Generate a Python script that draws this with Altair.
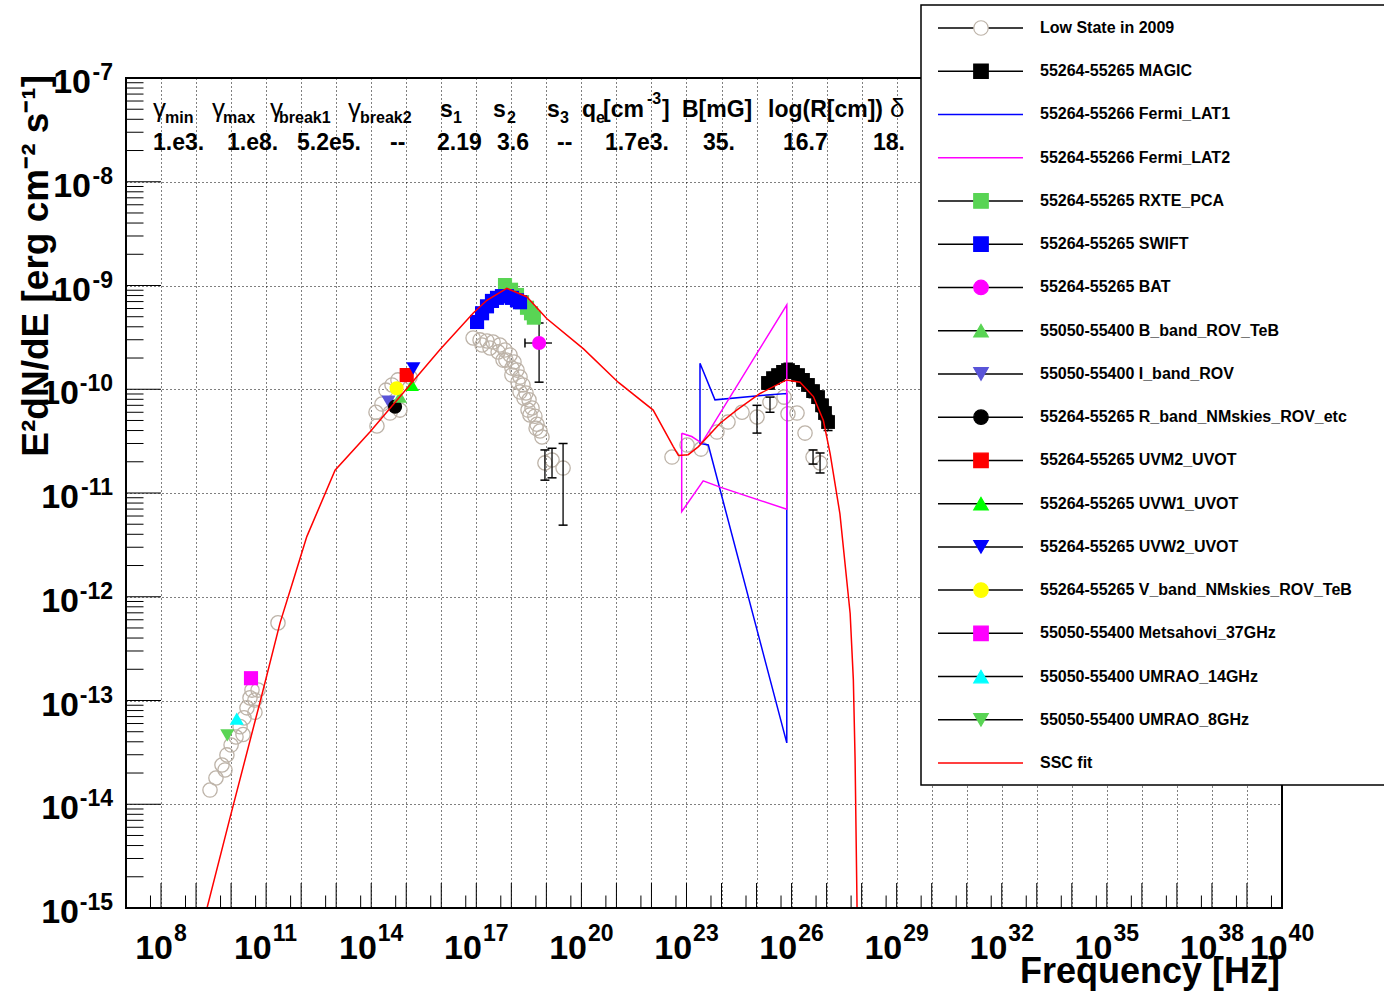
import altair as alt
import pandas as pd

FONT = "Liberation Sans"
W, H = 1156, 830
GREY = "#bdb3a8"
GREEN = "#59d454"
SLATE = "#5954d8"

# ---------------- data ----------------
ssc_nu = [1.45e9, 9.3e9, 7.4e10, 2.5e11, 6.0e11, 1.45e12, 9.3e12, 9.3e13, 9.1e15, 8.1e16,
          2.0e17, 7.4e17, 2.75e18, 1.02e19, 1.15e20, 1.12e21, 1.12e22, 4.2e22, 5.9e22, 1.12e23,
          2.2e23, 9.1e23, 2.7e24, 1.26e25, 7.2e25, 1.74e26, 4.2e26, 8.1e26, 1.26e27, 2.4e27,
          4.7e27, 5.8e27, 6.5e27, 7.4e27, 7.6e27]
ssc_f = [6.3e-16, 7.4e-15, 1.1e-13, 5.6e-13, 1.45e-12, 3.8e-12, 1.66e-11, 3.9e-11, 2.4e-10, 5.4e-10,
         7.2e-10, 9.4e-10, 7.8e-10, 4.8e-10, 2.45e-10, 1.17e-10, 6.3e-11, 2.8e-11, 2.3e-11, 2.34e-11,
         2.8e-11, 4.7e-11, 6.3e-11, 9.1e-11, 1.23e-10, 1.17e-10, 8.5e-11, 5.0e-11, 2.4e-11, 6.3e-12,
         6.9e-13, 1.58e-13, 2.7e-14, 1.0e-15, 5e-16]

lat1_nu = [2.43e23, 6.5e23, 1.95e25, 7.3e25, 7.3e25, 4.2e23, 2.43e23, 2.43e23]
lat1_f = [1.78e-10, 7.9e-11, 8.8e-11, 9.1e-11, 3.9e-14, 2.9e-11, 3.0e-11, 1.78e-10]

lat2_nu = [7.3e22, 1.41e23, 2.72e23, 7.3e25, 7.3e25, 9.1e23, 3.0e23, 7.3e22, 7.3e22]
lat2_f = [3.76e-11, 3.5e-11, 3.03e-11, 6.5e-10, 6.97e-12, 1.14e-11, 1.31e-11, 6.6e-12, 3.76e-11]

low_nu = [2.5e9, 3.7e9, 5.5e9, 6.7e9, 7.6e9, 1.0e10, 1.38e10, 1.8e10, 2.19e10, 2.34e10, 2.84e10,
          3.47e10, 3.95e10, 4.8e10, 4.8e10, 5.9e10, 2.18e11,
          1.46e14, 1.37e14, 2.03e14, 2.64e14, 3.93e14, 5.8e14, 6.6e14, 3.44e14, 1.28e15,
          8.1e16, 1.28e17, 2.02e17, 3.0e17, 4.7e17, 6.6e17, 9.2e17, 1.19e18, 1.45e18, 1.77e18,
          2.15e18, 2.62e18, 3.2e18, 3.9e18, 4.7e18, 5.4e18, 6.6e18, 7.5e18, 5.8e17, 1.04e18,
          1.77e18, 3.0e18, 9.1e18, 1.45e19, 3.0e19,
          1.46e17, 2.46e17, 4.2e17, 7.0e17, 1.04e18, 1.55e18, 2.3e18, 3.4e18, 5.1e18,
          3.86e22, 1.04e23, 2.6e23, 7.4e23, 1.53e24, 3.85e24, 1.03e25, 2.42e25, 6.1e25, 7.9e25,
          1.43e26, 2.42e26, 4.1e26, 6.5e26]
low_f = [1.37e-14, 1.79e-14, 2.39e-14, 2.14e-14, 2.99e-14, 3.72e-14, 4.45e-14, 5.6e-14, 4.7e-14, 6.8e-14, 8.5e-14,
         1.06e-13, 1.26e-13, 1.01e-13, 7.7e-14, 1.26e-13, 5.6e-13,
         4.43e-11, 6.0e-11, 7.2e-11, 9.8e-11, 1.10e-10, 1.23e-10, 6.3e-11, 5.9e-11, 1.31e-10,
         3.12e-10, 2.99e-10, 2.92e-10, 2.85e-10, 2.67e-10, 2.39e-10, 2.14e-10, 1.83e-10, 1.53e-10, 1.31e-10,
         1.10e-10, 9.2e-11, 7.9e-11, 6.6e-11, 5.5e-11, 4.6e-11, 3.96e-11, 3.47e-11, 1.91e-10, 1.37e-10,
         9.4e-11, 6.3e-11, 1.95e-11, 2.08e-11, 1.74e-11,
         2.67e-10, 2.5e-10, 2.29e-10, 1.91e-10, 1.6e-10, 1.17e-10, 8.2e-11, 5.65e-11, 4.2e-11,
         2.22e-11, 2.9e-11, 2.65e-11, 3.87e-11, 4.83e-11, 6.0e-11, 5.4e-11, 7.5e-11, 8.4e-11, 5.8e-11,
         5.9e-11, 3.78e-11, 2.22e-11, 1.95e-11]

low_err_nu = [9.1e18, 1.45e19, 3.0e19, 1.03e25, 2.42e25, 4.1e26, 6.5e26]
low_err_lo = [1.33e-11, 1.4e-11, 4.9e-12, 3.78e-11, 6.0e-11, 1.9e-11, 1.56e-11]
low_err_hi = [2.6e-11, 2.7e-11, 3.0e-11, 7.0e-11, 8.4e-11, 2.6e-11, 2.43e-11]

magic_nu = [2.12e25, 2.95e25, 4.1e25, 5.7e25, 7.9e25, 1.1e26, 1.53e26, 2.12e26, 2.94e26, 4.1e26,
            5.7e26, 7.4e26, 9.0e26, 1.1e27]
magic_f = [1.15e-10, 1.28e-10, 1.37e-10, 1.47e-10, 1.53e-10, 1.47e-10, 1.37e-10, 1.23e-10, 1.10e-10, 9.6e-11,
           8.4e-11, 7.0e-11, 5.9e-11, 4.83e-11]
magic_lo = [1.0e-10, 1.12e-10, 1.2e-10, 1.28e-10, 1.32e-10, 1.28e-10, 1.2e-10, 1.08e-10, 9.6e-11, 8.3e-11,
            7.3e-11, 6.0e-11, 5.0e-11, 4.0e-11]
magic_hi = [1.3e-10, 1.45e-10, 1.55e-10, 1.67e-10, 1.78e-10, 1.66e-10, 1.55e-10, 1.39e-10, 1.25e-10, 1.09e-10,
            9.6e-11, 8.0e-11, 6.8e-11, 5.6e-11]

rxte_nu = [6.6e17, 9.8e17, 1.45e18, 2.02e18, 2.8e18, 3.65e18, 4.4e18]
rxte_f = [1.01e-9, 9.1e-10, 8.1e-10, 6.9e-10, 6.1e-10, 5.4e-10, 4.9e-10]

swift_nu = [1.05e17, 1.46e17, 2.02e17, 2.8e17, 3.9e17, 5.4e17, 7.5e17, 1.04e18, 1.45e18, 1.77e18]
swift_f = [4.45e-10, 5.4e-10, 6.3e-10, 7.1e-10, 7.6e-10, 7.9e-10, 7.9e-10, 7.6e-10, 7.2e-10, 6.9e-10]

bat_nu = [6.2e18]
bat_f = [2.79e-10]
bat_lo = [1.17e-10]
bat_hi = [4.35e-10]
bat_xlo = [2.45e18]
bat_xhi = [1.45e19]

bband_nu, bband_f = [6.6e14], [8.5e-11]
iband_nu, iband_f = [3.1e14], [7.6e-11]
rband_nu, rband_f = [4.8e14], [6.8e-11]
uvm2_nu, uvm2_f = [1.03e15], [1.37e-10]
uvw1_nu, uvw1_f = [1.45e15], [1.1e-10]
uvw2_nu, uvw2_f = [1.6e15], [1.59e-10]
vband_nu, vband_f = [5.3e14], [1.02e-10]
mets_nu, mets_f = [3.7e10], [1.64e-13]
umrao14_nu, umrao14_f = [1.45e10], [6.7e-14]
umrao8_nu, umrao8_f = [7.8e9], [4.6e-14]

# tick labels
xlab_vals = [1e8, 1e11, 1e14, 1e17, 1e20, 1e23, 1e26, 1e29, 1e32, 1e35, 1e38, 1e40]
xlab_exp = ["8", "11", "14", "17", "20", "23", "26", "29", "32", "35", "38", "40"]
ylab_vals = [1e-7, 1e-8, 1e-9, 1e-10, 1e-11, 1e-12, 1e-13, 1e-14, 1e-15]
ylab_exp = ["-7", "-8", "-9", "-10", "-11", "-12", "-13", "-14", "-15"]

# header annotation (pixel layout inside the frame)
head_text = ["γ", "min", "γ", "max", "γ", "break1", "γ", "break2",
             "s", "1", "s", "2", "s", "3", "q", "e", "[cm", "-3", "]",
             "B[mG]", "log(R[cm])", "δ"]
head_x = [27, 39, 86, 97, 144, 153, 222, 234, 314, 327, 367, 381, 421, 434,
          456, 470, 477, 521, 536, 556, 642, 764]
head_y = [39, 45, 39, 45, 39, 45, 39, 45, 39, 45, 39, 45, 39, 45,
          39, 45, 39, 26, 39, 39, 39, 39]
head_size = [26, 16, 26, 16, 26, 16, 26, 16, 23, 16, 23, 16, 23, 16,
             23, 16, 23, 16, 23, 23, 23, 26]
head_bold = [0, 1, 0, 1, 0, 1, 0, 1, 1, 1, 1, 1, 1, 1, 1, 1, 1, 1, 1, 1, 1, 0]
val_text = ["1.e3.", "1.e8.", "5.2e5.", "--", "2.19", "3.6", "--", "1.7e3.", "35.", "16.7", "18."]
val_x = [27, 101, 171, 264, 311, 371, 431, 479, 577, 657, 747]

leg_labels = ["Low State in 2009", "55264-55265 MAGIC", "55264-55266 Fermi_LAT1",
              "55264-55266 Fermi_LAT2", "55264-55265 RXTE_PCA", "55264-55265 SWIFT",
              "55264-55265 BAT", "55050-55400 B_band_ROV_TeB", "55050-55400 I_band_ROV",
              "55264-55265 R_band_NMskies_ROV_etc", "55264-55265 UVM2_UVOT",
              "55264-55265 UVW1_UVOT", "55264-55265 UVW2_UVOT",
              "55264-55265 V_band_NMskies_ROV_TeB", "55050-55400 Metsahovi_37GHz",
              "55050-55400 UMRAO_14GHz", "55050-55400 UMRAO_8GHz", "SSC fit"]
leg_line = ["black", "black", "#0000ff", "#ff00ff", "black", "black", "black", "black", "black",
            "black", "black", "black", "black", "black", "black", "black", "black", "#ff0000"]
leg_shape = ["circle", "square", "", "", "square", "square", "circle", "triangle-up", "triangle-down",
             "circle", "square", "triangle-up", "triangle-down", "circle", "square", "triangle-up",
             "triangle-down", ""]
leg_fill = ["white", "black", "", "", GREEN, "#0000ff", "#ff00ff", GREEN, SLATE,
            "black", "#ff0000", "#00ff00", "#0000ff", "#ffff00", "#ff00ff", "#00ffff", GREEN, ""]
leg_stroke = [GREY, "black", "", "", GREEN, "#0000ff", "#ff00ff", GREEN, SLATE,
              "black", "#ff0000", "#00ff00", "#0000ff", "#ffff00", "#ff00ff", "#00ffff", GREEN, ""]

# ---------------- scales / axes ----------------
XS = alt.Scale(type="log", domain=[1e7, 1e40], nice=False)
YS = alt.Scale(type="log", domain=[1e-15, 1e-7], nice=False)
x_grid = [10.0 ** k for k in range(8, 40)]
y_grid = [10.0 ** k for k in range(-14, -7)]
XAX = alt.Axis(values=x_grid, grid=True, gridColor="black", gridDash=[1, 3], gridOpacity=1,
               gridWidth=1, labels=False, ticks=False, domain=False, title=None)
YAX = alt.Axis(values=y_grid, grid=True, gridColor="black", gridDash=[1, 3], gridOpacity=1,
               gridWidth=1, labels=False, ticks=False, domain=False, title=None)


def X(f="nu"):
    return alt.X(f"{f}:Q", scale=XS, axis=XAX)


def Y(f="F"):
    return alt.Y(f"{f}:Q", scale=YS, axis=YAX)


def df(nu, f):
    return pd.DataFrame({"nu": nu, "F": f})


def pts(nu, f, shape, color, size=200):
    return alt.Chart(df(nu, f)).mark_point(shape=shape, filled=True, color=color, size=size,
                                           opacity=1, clip=True).encode(x=X(), y=Y())


layers = []

# low state (first: carries the grid axes)
layers.append(alt.Chart(df(low_nu, low_f)).mark_point(
    shape="circle", filled=False, color=GREY, size=205, strokeWidth=1.3, opacity=1, clip=True
).encode(x=X(), y=Y()))

# inside ticks
xmaj = pd.DataFrame({"nu": x_grid})
xmin = pd.DataFrame({"nu": [5 * 10.0 ** k for k in range(7, 40)]})
ymaj = pd.DataFrame({"F": y_grid})
ymin = pd.DataFrame({"F": [m * 10.0 ** k for k in range(-15, -7) for m in range(2, 10)]})
layers.append(alt.Chart(xmaj).mark_rule(color="black", strokeWidth=1).encode(
    x=X(), y=alt.value(H), y2=alt.value(H - 25)))
layers.append(alt.Chart(xmin).mark_rule(color="black", strokeWidth=1).encode(
    x=X(), y=alt.value(H), y2=alt.value(H - 12.5)))
layers.append(alt.Chart(ymaj).mark_rule(color="black", strokeWidth=1).encode(
    y=Y(), x=alt.value(0), x2=alt.value(35)))
layers.append(alt.Chart(ymin).mark_rule(color="black", strokeWidth=1).encode(
    y=Y(), x=alt.value(0), x2=alt.value(17.5)))

# error bars
err = pd.DataFrame({"nu": low_err_nu + magic_nu + bat_nu,
                    "lo": low_err_lo + magic_lo + bat_lo,
                    "hi": low_err_hi + magic_hi + bat_hi})
layers.append(alt.Chart(err).mark_rule(color="black", strokeWidth=1.3, clip=True).encode(
    x=X(), y=Y("lo"), y2="hi"))
for fld in ["lo", "hi"]:
    layers.append(alt.Chart(err).mark_tick(orient="horizontal", size=9, thickness=1.5,
                                           color="black", opacity=1, clip=True).encode(
        x=X(), y=Y(fld)))
baterr = pd.DataFrame({"F": bat_f, "xlo": bat_xlo, "xhi": bat_xhi})
layers.append(alt.Chart(baterr).mark_rule(color="black", strokeWidth=1.3, clip=True).encode(
    x=X("xlo"), x2="xhi", y=Y()))
layers.append(alt.Chart(baterr).mark_tick(orient="vertical", size=9, thickness=1.5,
                                          color="black", opacity=1, clip=True).encode(
    x=X("xlo"), y=Y()))

# MAGIC
layers.append(pts(magic_nu, magic_f, "square", "black", 190))

# Fermi butterflies
for nu, f, c in [(lat1_nu, lat1_f, "#0000ff"), (lat2_nu, lat2_f, "#ff00ff")]:
    d = df(nu, f)
    d["i"] = range(len(d))
    layers.append(alt.Chart(d).mark_line(color=c, strokeWidth=1.5, clip=True).encode(
        x=X(), y=Y(), order="i:Q"))

# other data sets
layers.append(pts(rxte_nu, rxte_f, "square", GREEN))
layers.append(pts(swift_nu, swift_f, "square", "#0000ff"))
layers.append(pts(bat_nu, bat_f, "circle", "#ff00ff"))
layers.append(pts(iband_nu, iband_f, "triangle-down", SLATE))
layers.append(pts(rband_nu, rband_f, "circle", "black"))
layers.append(pts(bband_nu, bband_f, "triangle-up", GREEN))
layers.append(pts(vband_nu, vband_f, "circle", "#ffff00"))
layers.append(pts(uvw1_nu, uvw1_f, "triangle-up", "#00ff00"))
layers.append(pts(uvm2_nu, uvm2_f, "square", "#ff0000"))
layers.append(pts(uvw2_nu, uvw2_f, "triangle-down", "#0000ff"))
layers.append(pts(mets_nu, mets_f, "square", "#ff00ff"))
layers.append(pts(umrao14_nu, umrao14_f, "triangle-up", "#00ffff"))
layers.append(pts(umrao8_nu, umrao8_f, "triangle-down", GREEN))

# SSC fit
sscd = df(ssc_nu, ssc_f)
sscd["i"] = range(len(sscd))
layers.append(alt.Chart(sscd).mark_line(color="#ff0000", strokeWidth=1.5, clip=True).encode(
    x=X(), y=Y(), order="i:Q"))

# frame
one = pd.DataFrame({"a": [0]})
layers.append(alt.Chart(one).mark_rect(fillOpacity=0, stroke="black", strokeWidth=2).encode(
    x=alt.value(0), x2=alt.value(W), y=alt.value(0), y2=alt.value(H)))

# header annotation
hd = pd.DataFrame({"t": head_text, "x": head_x, "y": head_y, "s": head_size, "b": head_bold})
for b, wgt in [(1, "bold"), (0, "normal")]:
    layers.append(alt.Chart(hd).transform_filter(f"datum.b == {b}").mark_text(
        font=FONT, fontWeight=wgt, align="left", baseline="alphabetic", color="black").encode(
        x=alt.X("x:Q", scale=None), y=alt.Y("y:Q", scale=None),
        size=alt.Size("s:Q", scale=None), text="t:N"))
vd = pd.DataFrame({"t": val_text, "x": val_x})
layers.append(alt.Chart(vd).mark_text(font=FONT, fontWeight="bold", fontSize=23, align="left",
                                      baseline="alphabetic", color="black").encode(
    x=alt.X("x:Q", scale=None), y=alt.value(72), text="t:N"))

# legend
ld = pd.DataFrame({"lab": leg_labels, "lc": leg_line, "shp": leg_shape, "fc": leg_fill,
                   "sc": leg_stroke, "ly": [-50 + i * 43.24 for i in range(len(leg_labels))]})
layers.append(alt.Chart(one).mark_rect(fill="white", stroke="black", strokeWidth=1.5).encode(
    x=alt.value(795), x2=alt.value(1275), y=alt.value(-73), y2=alt.value(707)))
layers.append(alt.Chart(ld).mark_rule(strokeWidth=1.5).encode(
    x=alt.value(812), x2=alt.value(897), y=alt.Y("ly:Q", scale=None),
    color=alt.Color("lc:N", scale=None)))
layers.append(alt.Chart(ld).transform_filter("datum.shp != ''").mark_point(
    filled=True, size=210, opacity=1, strokeWidth=1.2).encode(
    x=alt.value(855), y=alt.Y("ly:Q", scale=None), shape=alt.Shape("shp:N", scale=None),
    fill=alt.Fill("fc:N", scale=None), stroke=alt.Stroke("sc:N", scale=None)))
layers.append(alt.Chart(ld).mark_text(font=FONT, fontWeight="bold", fontSize=16, align="left",
                                      baseline="middle", color="black").encode(
    x=alt.value(914), y=alt.Y("ly:Q", scale=None), text="lab:N"))

# axis tick labels
xl = pd.DataFrame({"nu": xlab_vals, "exp": xlab_exp})
for cond, dx10, dxe in [("length(datum.exp) == 1", 12, 13), ("length(datum.exp) == 2", 5.6, 6.6)]:
    layers.append(alt.Chart(xl).transform_filter(cond).mark_text(
        text="10", font=FONT, fontWeight="bold", fontSize=34, align="right",
        baseline="alphabetic", dx=dx10, color="black").encode(x=X(), y=alt.value(H + 51)))
    layers.append(alt.Chart(xl).transform_filter(cond).mark_text(
        font=FONT, fontWeight="bold", fontSize=23, align="left",
        baseline="alphabetic", dx=dxe, color="black").encode(x=X(), y=alt.value(H + 33), text="exp:N"))
yl = pd.DataFrame({"F": ylab_vals, "exp": ylab_exp})
for cond, x10 in [("length(datum.exp) == 2", -35), ("length(datum.exp) == 3", -47)]:
    layers.append(alt.Chart(yl).transform_filter(cond).mark_text(
        text="10", font=FONT, fontWeight="bold", fontSize=34, align="right",
        baseline="alphabetic", dy=15, color="black").encode(y=Y(), x=alt.value(x10)))
    layers.append(alt.Chart(yl).transform_filter(cond).mark_text(
        font=FONT, fontWeight="bold", fontSize=23, align="right",
        baseline="alphabetic", dy=2, color="black").encode(y=Y(), x=alt.value(-13), text="exp:N"))

# axis titles
layers.append(alt.Chart(one).mark_text(text="Frequency [Hz]", font=FONT, fontWeight="bold",
                                       fontSize=36, align="right", baseline="alphabetic",
                                       color="black").encode(x=alt.value(W - 2), y=alt.value(H + 75)))
layers.append(alt.Chart(one).mark_text(text="E²dN/dE [erg cm⁻² s⁻¹]", font=FONT, fontWeight="bold",
                                       fontSize=37, align="right", baseline="alphabetic", angle=270,
                                       color="black").encode(x=alt.value(-78), y=alt.value(-3)))

chart = alt.layer(*layers).properties(
    width=W, height=H,
    autosize=alt.AutoSizeParams(type="none"),
    padding={"left": 126, "top": 78, "right": 102, "bottom": 86},
    background="white",
).configure_view(strokeWidth=0).configure(font=FONT)

chart.save("out.html", embed_options={"renderer": "svg", "actions": False})
